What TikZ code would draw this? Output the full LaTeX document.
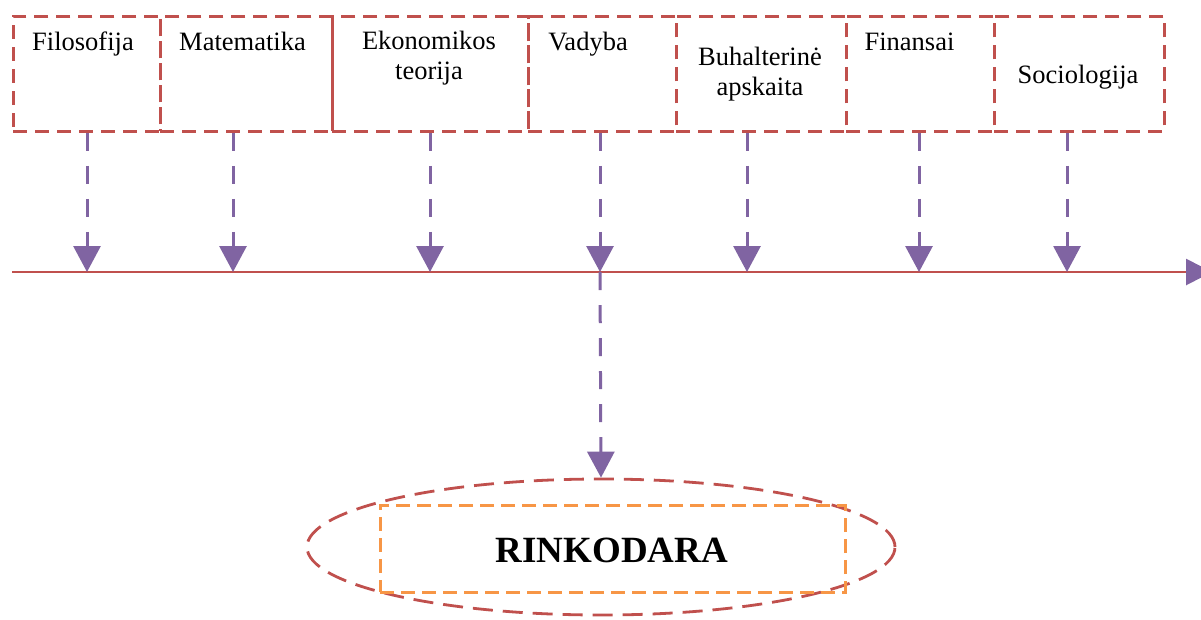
\documentclass[tikz,border=0pt]{standalone}
\usepackage{fontspec}
\setmainfont{Liberation Serif}
\usetikzlibrary{arrows.meta,shapes.geometric}
\definecolor{cred}{HTML}{C0504D}
\definecolor{cpurple}{HTML}{8064A2}
\definecolor{corange}{HTML}{F79646}
\tikzset{
  discbox/.style={draw=cred, line width=2.8pt, dash pattern=on 14pt off 8pt, inner sep=0pt, anchor=north west},
  lbl/.style={anchor=base, inner sep=0pt, font=\fontsize{26.5}{29.5}\selectfont, align=center},
  varrow/.style={draw=cpurple, line width=3pt, dash pattern=on 18pt off 15pt, -{Triangle[width=27pt,length=26pt]}},
  axisline/.style={draw=cred, line width=2.8pt, -{Triangle[width=26pt,length=26pt,color=cpurple,fill=cpurple]}},
}
\begin{document}
\begin{tikzpicture}[x=1pt,y=-1pt]
\useasboundingbox[fill=white] (0,0) rectangle (1201,619);
\clip (0,0) rectangle (1201,619);
% boxes
\node[discbox, minimum width=147pt, minimum height=115pt] (b1) at (12,15) {};
\node[discbox, minimum width=172pt, minimum height=115pt] (b2) at (159,15) {};
\node[discbox, minimum width=196pt, minimum height=115pt] (b3) at (331,15) {};
\node[discbox, minimum width=148pt, minimum height=115pt] (b4) at (527,15) {};
\node[discbox, minimum width=170pt, minimum height=115pt] (b5) at (675,15) {};
\node[discbox, minimum width=148pt, minimum height=115pt] (b6) at (845,15) {};
\node[discbox, minimum width=170pt, minimum height=115pt] (b7) at (993,15) {};
% labels (anchor=base is the last line's baseline)
\node[lbl] (t1) at (83,50) {Filosofija};
\node[lbl] (t2) at (242.5,50) {Matematika};
\node[lbl] (t3) at (429,79) {Ekonomikos\\teorija};
\node[lbl] (t4) at (588,50) {Vadyba};
\node[lbl] (t5) at (760,95) {Buhalterinė\\apskaita};
\node[lbl] (t6) at (909.5,50) {Finansai};
\node[lbl] (t7) at (1078,83) {Sociologija};
% axis points
\coordinate (a0) at (12,272);
\coordinate (aend) at (1212,272);
\coordinate (a1) at (87,272);
\coordinate (a2) at (233,272);
\coordinate (a3) at (430,272);
\coordinate (a4) at (600,272);
\coordinate (a5) at (747,272);
\coordinate (a6) at (919,272);
\coordinate (a7) at (1067,272);
% axis
\draw[axisline] (a0) -- (aend);
% arrows
\draw[varrow] (a1 |- b1.south) -- (a1);
\draw[varrow] (a2 |- b2.south) -- (a2);
\draw[varrow] (a3 |- b3.south) -- (a3);
\draw[varrow] (a4 |- b4.south) -- (a4);
\draw[varrow] (a5 |- b5.south) -- (a5);
\draw[varrow] (a6 |- b6.south) -- (a6);
\draw[varrow] (a7 |- b7.south) -- (a7);
% result
\node[ellipse, draw=cred, line width=2.8pt, dash pattern=on 20pt off 10pt, minimum width=588pt, minimum height=136pt, inner sep=0pt] (ell) at (601,547) {};
\node[draw=corange, line width=3pt, dash pattern=on 14pt off 7pt, minimum width=465pt, minimum height=87pt, inner sep=0pt] (rect) at (612.5,548.5) {};
\node[anchor=base, inner sep=0pt, font=\fontsize{37}{40}\selectfont\bfseries] (res) at (612,562) {RINKODARA};
\draw[varrow] (a4) -- (ell.north);
\end{tikzpicture}
\end{document}
